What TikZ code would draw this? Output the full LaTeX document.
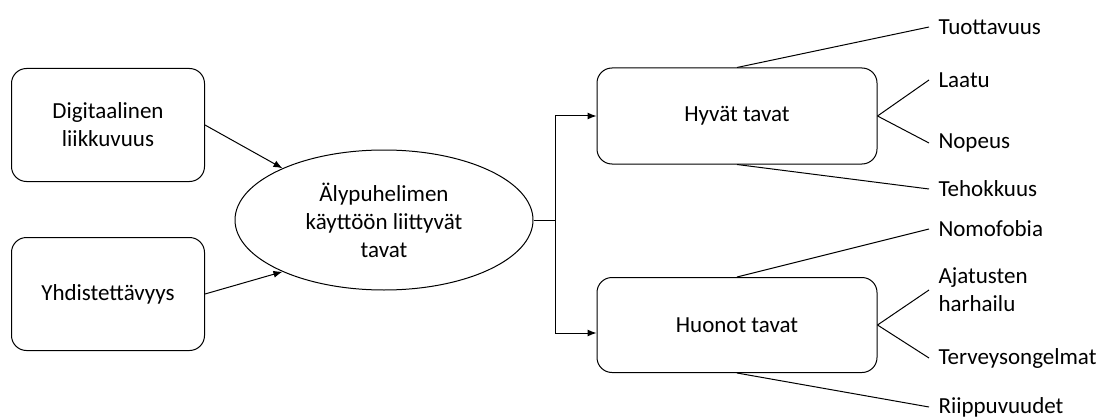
\documentclass[tikz,border=0pt]{standalone}
\usepackage{fontspec}
\setmainfont{Carlito}
\usetikzlibrary{
  shapes.geometric
  , arrows.meta
}

\begin{document}
\begin{tikzpicture}[x=1pt, y=-1pt,
    line width=1pt,
    font=\fontsize{23}{28}\selectfont,
    box/.style={draw, rounded corners=15pt, align=center, inner sep=0pt},
    leaf/.style={anchor=west, align=left, inner xsep=9pt, inner ysep=0pt},
    arr/.style={-{Latex[length=9pt,width=7pt]}}]
      \useasboundingbox (0,0) rectangle (1102,417);

      % inputs and the central ellipse
      \node [box, minimum width=193, minimum height=113] (dig) at (108,125) {Digitaalinen\\liikkuvuus};
      \node [box, minimum width=193, minimum height=113] (yhd) at (108,294) {Yhdistettävyys};
      \node [ellipse, draw, inner sep=0pt,
        minimum width=298,
        minimum height=140,
        align=center] (aly) at (384,220) {Älypuhelimen\\käyttöön liittyvät\\tavat};

      \draw [arr] (dig.east) -- (aly.153);
      \draw [arr] (yhd.east) -- (aly.207);

      % good and bad habits
      \node [box, minimum width=280, minimum height=96] (hyva) at (737,116) {Hyvät tavat};
      \node [box, minimum width=280, minimum height=95] (huono) at (737,325) {Huonot tavat};

      \draw (aly.east) -- ++(22,0) coordinate (split);
      \draw [arr] (split) |- (hyva.west);
      \draw [arr] (split) |- ([yshift=-8pt]huono.west);

      % leaves
      \node [leaf] (tuo) at (929,27) {Tuottavuus};
      \node [leaf] (laa) at (929,80) {Laatu};
      \node [leaf] (nop) at (929,143) {Nopeus};
      \node [leaf] (teh) at (929,189) {Tehokkuus};
      \node [leaf] (nom) at (929,229) {Nomofobia};
      \node [leaf] (aja) at (929,290) {Ajatusten\\harhailu};
      \node [leaf] (ter) at (929,358) {Terveysongelmat};
      \node [leaf] (rii) at (929,407) {Riippuvuudet};

      \draw (hyva.north) -- (tuo.west);
      \draw (hyva.east) -- (laa.west);
      \draw (hyva.east) -- (nop.west);
      \draw (hyva.south) -- (teh.west);
      \draw (huono.north) -- (nom.west);
      \draw (huono.east) -- (aja.west);
      \draw (huono.east) -- (ter.west);
      \draw (huono.south) -- (rii.west);
\end{tikzpicture}
\end{document}
